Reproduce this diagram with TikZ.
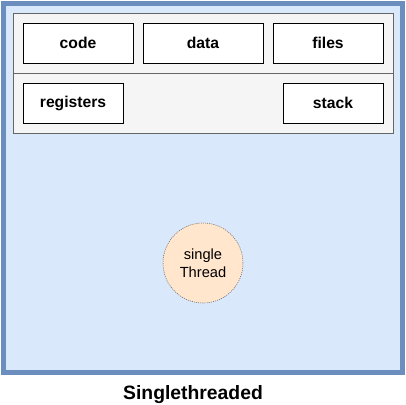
\documentclass[tikz,border=0pt]{standalone}
\usepackage{fontspec}
\setmainfont{Liberation Sans}
\usepackage{tikz}
\usetikzlibrary{positioning}
\definecolor{procfill}{HTML}{DAE8FC}
\definecolor{procline}{HTML}{6C8EBF}
\definecolor{sharefill}{HTML}{F5F5F5}
\definecolor{shareline}{HTML}{666666}
\definecolor{thrfill}{HTML}{FFE6CC}

\begin{document}
\begin{tikzpicture}[
  x=0.75pt,y=-0.75pt,
  font=\fontsize{11}{13.5}\selectfont,
  seg/.style={draw,fill=white,line width=0.75pt,minimum width=82.5pt,minimum height=30pt,inner sep=0pt,font=\bfseries\fontsize{11.75}{14}\selectfont},
  thr/.style={circle,draw=shareline,fill=thrfill,dash pattern=on 0.8pt off 0.8pt,minimum size=60pt,inner sep=0pt,align=center}]
\useasboundingbox (0,0) rectangle (406,404);

% --- process area and the shared part ---
\draw[line width=3.75pt,draw=procline,fill=procfill] (3.5,3.5) rectangle (402.5,372.5);
\draw[draw=shareline,fill=sharefill,line width=0.75pt] (13,13) rectangle (393,133);
\draw[draw=shareline,line width=0.75pt] (13,73) -- (393,73);

% --- top row ---
\node[seg] (code) at (78,43) {code};
\node[seg,minimum width=90pt,right=6.75pt of code] (data) {data};
\node[seg,right=6.75pt of data] (files) {files};

% --- bottom row ---
\node[seg,minimum width=75pt] (registers) at (73,103) {registers};
\node[seg,minimum width=75pt] (stack) at (333,103) {stack};

\node[thr] (thread) at (203,263) {single\\Thread};
\node[font=\bfseries\fontsize{14.5}{17}\selectfont] (title) at (193,395) {Singlethreaded};
\end{tikzpicture}
\end{document}
